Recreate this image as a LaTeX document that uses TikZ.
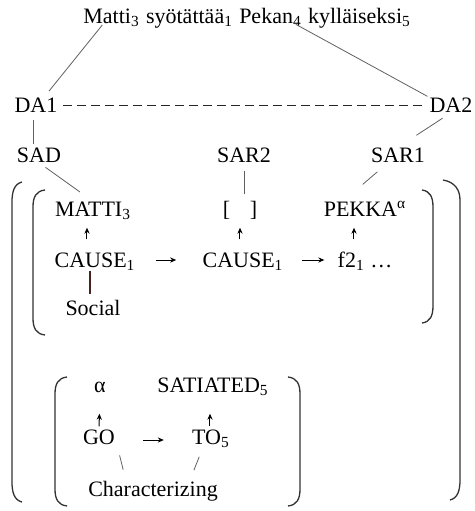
\documentclass[tikz,border=0pt]{standalone}
\usepackage{fontspec}
\setmainfont{Liberation Serif}
\usetikzlibrary{positioning,arrows.meta}
\definecolor{socline}{RGB}{70,35,30}
\begin{document}
\begin{tikzpicture}[x=0.5pt,y=-0.5pt,
  every node/.style={inner sep=0pt, text height=7.3pt, text depth=0pt, font=\fontsize{11}{13}\selectfont},
  link/.style={gray!75!black, line width=0.4pt},
  up/.style={-{Stealth[length=3pt,width=2.6pt]}, line width=0.5pt},
  brk/.style={black!80, line width=0.65pt}]
\useasboundingbox (0,0) rectangle (475,511);
% sentence
\node[anchor=base west] (matti) at (83,23) {Matti\textsubscript{3}};
\node[base right=2.75pt of matti] (syotattaa) {syötättää\textsubscript{1}};
\node[base right=2.75pt of syotattaa] (pekan) {Pekan\textsubscript{4}};
\node[base right=2.75pt of pekan] (kyllaiseksi) {kylläiseksi\textsubscript{5}};
% discourse and situation arguments
\node (da1) at (36,105) {DA1};
\node (da2) at (451,105) {DA2};
\node (sad) at (39,155) {SAD};
\node (sar2) at (244,155) {SAR2};
\node (sar1) at (398,155) {SAR1};
\draw[link, shorten <=1pt, shorten >=4pt] ([xshift=-4pt]matti.south) -- ([xshift=4pt]da1.north);
\draw[link, shorten <=1pt, shorten >=1pt] ([xshift=-4pt]pekan.south east) -- (da2.north west);
\draw[black!85, line width=0.5pt, dash pattern=on 4.5pt off 2.5pt, shorten <=2.5pt, shorten >=2pt] (da1.east) -- (da2.west);
\draw[link, shorten <=3.5pt, shorten >=1.5pt] ([xshift=-1.5pt]da1.south) -- ([xshift=-1.5pt]da1.south |- sad.north);
\draw[link, shorten <=5pt, shorten >=11pt] (da2.south) -- (sar1.north);
% causing event
\node (mattiup) at (93,209) {MATTI\textsubscript{3}};
\node (slot) at (240,209) {[\hspace{0.9em}]};
\node (pekka) at (365,209) {PEKKA\textsuperscript{α}};
\node (cause1) at (95,260) {CAUSE\textsubscript{1}};
\node (cause2) at (243,260) {CAUSE\textsubscript{1}};
\node (ftwo) at (365,260) {f2\textsubscript{1} …};
\node (social) at (93,308) {Social};
\draw[link, shorten <=4pt, shorten >=8pt] (sad.south) -- (mattiup.north);
\draw[link, shorten <=4pt, shorten >=3.5pt] (sar2.south) -- (sar2.south |- slot.north);
\draw[link, shorten <=7pt, shorten >=13pt] ([xshift=-5pt]sar1.south) -- ([xshift=-11pt]pekka.north);
\draw[up, shorten <=6.5pt, shorten >=5.5pt] ([xshift=-3pt]mattiup.south |- cause1.north) -- ([xshift=-3pt]mattiup.south);
\draw[up, shorten <=6.5pt, shorten >=5.5pt] (slot.south |- cause2.north) -- (slot.south);
\draw[up, shorten <=6.5pt, shorten >=5.5pt] ([xshift=-5.5pt]pekka.south |- ftwo.north) -- ([xshift=-5.5pt]pekka.south);
\draw[up, shorten <=10pt, shorten >=13pt] (cause1.east) -- (cause2.west);
\draw[up, shorten <=9pt, shorten >=6.5pt] (cause2.east) -- (ftwo.west);
\draw[socline, line width=0.8pt, shorten <=1.5pt, shorten >=3pt] ([xshift=-2.5pt]cause1.south) -- ([xshift=-2.5pt]cause1.south |- social.north);
% result state
\node (alpha) at (100,385) {α};
\node (satiated) at (213,385) {SATIATED\textsubscript{5}};
\node (go) at (99,437) {GO};
\node (to) at (211,437) {TO\textsubscript{5}};
\node (char) at (153,489) {Characterizing};
\draw[up, shorten <=1.5pt, shorten >=10.5pt] (go.north) -- (alpha.south);
\draw[up, shorten <=1.5pt, shorten >=10.5pt] ([xshift=-0.5pt]to.north) -- ([xshift=-0.5pt]to.north |- satiated.south);
\draw[up, shorten <=14pt, shorten >=14pt] ([yshift=-1.5pt]go.east) -- ([yshift=-1.5pt]go.east -| to.west);
\draw[link, shorten <=5.5pt, shorten >=6pt] ([xshift=9pt]go.south) -- ([xshift=-13.5pt]char.north);
\draw[link, shorten <=6.5pt, shorten >=6pt] ([xshift=-3.5pt]to.south) -- ([xshift=18.25pt]char.north);
% brackets
\draw[brk] (22,182) .. controls (14,184) and (12,192) .. (12,202) -- (12,482) .. controls (12,492) and (14,500) .. (22,502);
\draw[brk] (443,180) .. controls (455,182) and (460,190) .. (460,200) -- (460,480) .. controls (460,490) and (458,498) .. (450,500);
\draw[brk] (45,190) .. controls (36,191) and (33,197) .. (33,207) -- (33,318) .. controls (33,328) and (36,334) .. (45,335);
\draw[brk] (422,190) .. controls (430,191) and (433,197) .. (433,207) -- (433,306) .. controls (433,316) and (430,322) .. (422,323);
\draw[brk] (67,377) .. controls (58,378) and (55,384) .. (55,394) -- (55,489) .. controls (55,499) and (58,505) .. (67,506);
\draw[brk] (288,377) .. controls (297,378) and (300,384) .. (300,394) -- (300,489) .. controls (300,499) and (297,505) .. (288,506);
\end{tikzpicture}
\end{document}
